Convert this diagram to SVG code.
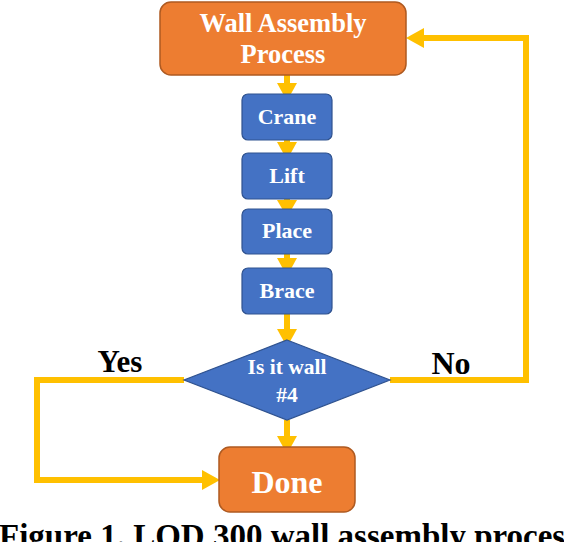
<svg xmlns="http://www.w3.org/2000/svg" width="564" height="542" viewBox="0 0 564 542">
<defs>
<style>
.orange{fill:#ED7D31;stroke:#AE5A21;stroke-width:1.5}
.blue{fill:#4472C4;stroke:#2F528F;stroke-width:1.2}
.wt{fill:#fff;font-family:"Liberation Serif","Times New Roman",serif;font-weight:bold;text-anchor:middle}
.lbl{fill:#000;font-family:"Liberation Serif","Times New Roman",serif;font-weight:bold;text-anchor:middle}
.conn{fill:none;stroke:#FFC000;stroke-width:6}
.head{fill:#FFC000}
</style>
</defs>
<rect width="564" height="542" fill="#fff"/>
<g id="connectors">
<path class="conn" d="M287,75 V84"/>
<polygon class="head" points="277,83 297,83 287,101"/>
<path class="conn" d="M287,140 V145"/>
<polygon class="head" points="277,142 297,142 287,160"/>
<path class="conn" d="M287,199 V203"/>
<polygon class="head" points="277,200 297,200 287,217"/>
<path class="conn" d="M287,254 V260"/>
<polygon class="head" points="277,258 297,258 287,276"/>
<path class="conn" d="M287,314 V330"/>
<polygon class="head" points="277,329 297,329 287,347"/>
<path class="conn" d="M287,420 V437"/>
<polygon class="head" points="277,436 297,436 287,454"/>
<path class="conn" d="M184,380 H37 V480 H205"/>
<polygon class="head" points="202,470 202,490 220,480"/>
<path class="conn" d="M390,380 H526 V38 H420"/>
<polygon class="head" points="424,28 424,48 406,38"/>
<text class="lbl" x="120" y="372" font-size="31">Yes</text>
<text class="lbl" x="451" y="374" font-size="32">No</text>
</g>
<g id="wall-assembly">
<rect class="orange" x="160" y="2" width="246" height="73" rx="11"/>
<text class="wt" x="283" y="32" font-size="26.5">Wall Assembly</text>
<text class="wt" x="283" y="63" font-size="26.5">Process</text>
</g>
<g id="crane">
<rect class="blue" x="242" y="94" width="90" height="46" rx="6"/>
<text class="wt" x="287" y="124" font-size="22">Crane</text>
</g>
<g id="lift">
<rect class="blue" x="242" y="153" width="90" height="46" rx="6"/>
<text class="wt" x="287" y="183" font-size="22">Lift</text>
</g>
<g id="place">
<rect class="blue" x="242" y="209" width="90" height="45" rx="6"/>
<text class="wt" x="287" y="238" font-size="22">Place</text>
</g>
<g id="brace">
<rect class="blue" x="242" y="268" width="90" height="46" rx="6"/>
<text class="wt" x="287" y="298" font-size="22">Brace</text>
</g>
<g id="decision">
<polygon class="blue" points="287,340 390,380 287,420 184,380"/>
<text class="wt" x="287" y="374" font-size="21.5">Is it wall</text>
<text class="wt" x="287" y="402" font-size="21.5">#4</text>
</g>
<g id="done">
<rect class="orange" x="219" y="447" width="136" height="65" rx="11"/>
<text class="wt" x="287" y="493" font-size="32">Done</text>
</g>
<text class="lbl" x="-1" y="547" font-size="33" style="text-anchor:start">Figure 1. LOD 300 wall assembly proces</text>
</svg>
